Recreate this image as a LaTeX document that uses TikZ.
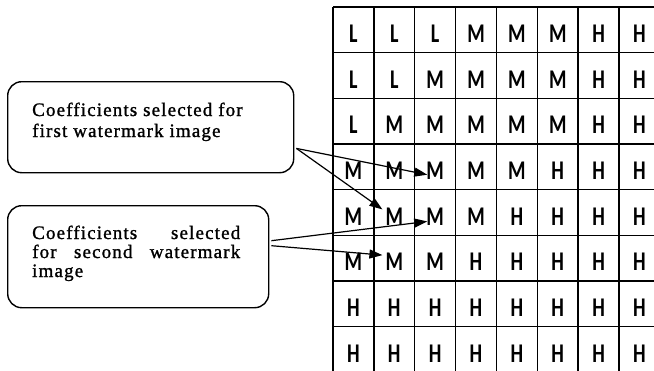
\documentclass[tikz,border=0pt]{standalone}
\usepackage{fontspec}
\setmainfont{Liberation Serif}
\newfontfamily\boxfont[LetterSpace=6,FakeBold=1.2]{Liberation Serif}
\newfontfamily\cellfont{Carlito}
\usetikzlibrary{arrows.meta,calc}
\begin{document}
\begin{tikzpicture}[x=1pt,y=-1pt,
  box/.style={draw, line width=1.4pt, rounded corners=14pt, inner sep=0},
  lbl/.style={anchor=base west, inner sep=0, font=\boxfont\fontsize{19}{21}\selectfont},
  cell/.style={anchor=base, inner sep=0, font=\cellfont\bfseries\fontsize{27}{27}\selectfont, xscale=0.74, transform shape},
  gridline/.style={line width=1.4pt},
  arr/.style={line width=1.2pt, -{Triangle[length=13pt,width=9pt]}}]
\useasboundingbox (0,0) rectangle (654,370);
% boxes
\node[box, minimum width=286pt, minimum height=91pt, anchor=north west] (box1) at (7,81) {};
\node[box, minimum width=261pt, minimum height=102pt, anchor=north west] (box2) at (7,205) {};
\node[lbl] (t1a) at (32,116) {Coefficients selected for};
\node[lbl] (t1b) at (32,137) {first watermark image};
\node[lbl] (t2a) at (32,239) {\makebox[208pt][s]{Coefficients selected}};
\node[lbl] (t2b) at (32,258) {\makebox[208pt][s]{for second watermark}};
\node[lbl] (t2c) at (32,277) {image};
% grid
\foreach \jj in {0,...,8} \draw[gridline] (333,{7+45.67*\jj}) -- (662,{7+45.67*\jj});
\foreach \ii in {0,...,8} \draw[gridline] ({333+40.86*\ii},7) -- ({333+40.86*\ii},373);
\foreach \rowlist [count=\rr from 0] in {{L,L,L,M,M,M,H,H},{L,L,M,M,M,M,H,H},{L,M,M,M,M,M,H,H},{M,M,M,M,M,H,H,H},{M,M,M,M,H,H,H,H},{M,M,M,H,H,H,H,H},{H,H,H,H,H,H,H,H},{H,H,H,H,H,H,H,H}} {
  \foreach \ch [count=\cc from 0] in \rowlist {
    \node[cell] (c-\rr-\cc) at ({333+40.86*(\cc+0.5)},{7+45.67*\rr+35.5}) {\ch};
  }
}
% arrows
\coordinate (s1) at ($(box1.south east)+(2,-25)$);
\coordinate (s2a) at ($(box2.east)+(2,-16)$);
\coordinate (s2b) at ($(box2.east)+(2,-11)$);
\draw[arr] (s1) -- ($(c-3-2.south west)+(1,-5)$);
\draw[arr] (s1) -- ($(c-4-1.west)+(-3,-7)$);
\draw[arr] (s2a) -- ($(c-4-2.west)+(1,5)$);
\draw[arr] (s2b) -- ($(c-5-1.west)+(-3,-7)$);
\end{tikzpicture}
\end{document}
